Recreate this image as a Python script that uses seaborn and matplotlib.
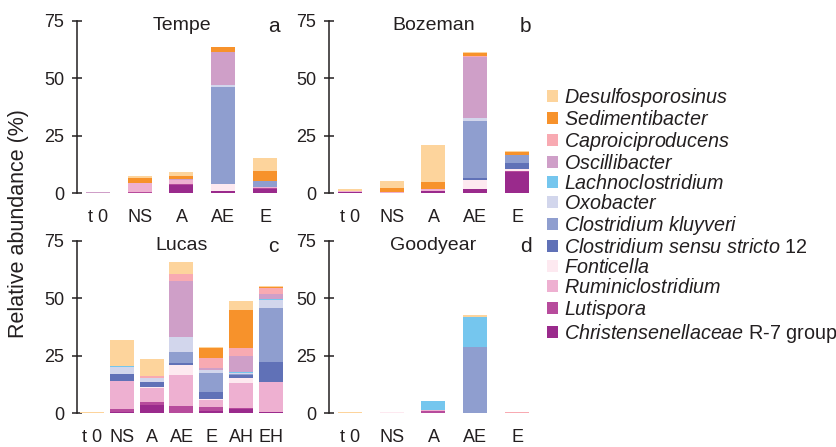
import matplotlib
matplotlib.use("Agg")
import matplotlib.pyplot as plt
from matplotlib.patches import Patch
import seaborn as sns
import pandas as pd
import numpy as np

# ---------------- data ----------------
genera = ["Desulfosporosinus", "Sedimentibacter", "Caproiciproducens", "Oscillibacter",
          "Lachnoclostridium", "Oxobacter", "Clostridium kluyveri",
          "Clostridium sensu stricto 12", "Fonticella", "Ruminiclostridium",
          "Lutispora", "Christensenellaceae R-7 group"]
legend_labels = [r"$\mathit{Desulfosporosinus}$", r"$\mathit{Sedimentibacter}$",
                 r"$\mathit{Caproiciproducens}$", r"$\mathit{Oscillibacter}$",
                 r"$\mathit{Lachnoclostridium}$", r"$\mathit{Oxobacter}$",
                 r"$\mathit{Clostridium\ kluyveri}$",
                 r"$\mathit{Clostridium\ sensu\ stricto}$ 12",
                 r"$\mathit{Fonticella}$", r"$\mathit{Ruminiclostridium}$",
                 r"$\mathit{Lutispora}$", r"$\mathit{Christensenellaceae}$ R-7 group"]
colors = ["#fdd49c", "#f7922b", "#f8aab2", "#cf9fc8", "#75c6ee", "#d2d6ec",
          "#8f9ecf", "#6071b7", "#fde9f0", "#eeb0d1", "#b74b9c", "#9a2a8c"]

samples5 = ["t 0", "NS", "A", "AE", "E"]
samples7 = ["t 0", "NS", "A", "AE", "E", "AH", "EH"]

# rows follow `genera` order (top of stack first); columns follow samples
tempe = [
    [0.0, 0.8, 1.4, 0.0, 5.5],    # Desulfosporosinus
    [0.0, 2.2, 1.6, 2.3, 4.3],    # Sedimentibacter
    [0.0, 0.0, 0.0, 0.0, 0.0],    # Caproiciproducens
    [0.5, 0.0, 0.3, 14.1, 0.0],   # Oscillibacter
    [0.0, 0.0, 0.0, 0.0, 0.0],    # Lachnoclostridium
    [0.0, 0.0, 0.0, 0.9, 0.0],    # Oxobacter
    [0.0, 0.2, 0.0, 42.2, 2.6],   # Clostridium kluyveri
    [0.0, 0.0, 0.0, 0.0, 0.0],    # Clostridium sensu stricto 12
    [0.0, 0.0, 0.0, 2.8, 0.0],    # Fonticella
    [0.0, 3.6, 1.9, 0.0, 0.5],    # Ruminiclostridium
    [0.0, 0.4, 0.4, 0.0, 0.5],    # Lutispora
    [0.0, 0.3, 3.5, 1.2, 1.8],    # Christensenellaceae R-7 group
]
bozeman = [
    [0.7, 2.9, 16.4, 0.6, 0.6],
    [0.2, 1.6, 2.9, 1.2, 1.0],
    [0.0, 0.0, 0.0, 0.6, 0.0],
    [0.0, 0.0, 0.0, 26.2, 0.0],
    [0.0, 0.0, 0.0, 0.0, 0.0],
    [0.0, 0.0, 0.0, 1.3, 0.3],
    [0.0, 0.0, 0.0, 25.1, 3.5],
    [0.0, 0.0, 0.0, 0.7, 2.6],
    [0.0, 0.0, 0.0, 3.8, 0.6],
    [0.4, 0.4, 0.9, 0.0, 0.0],
    [0.0, 0.0, 0.0, 0.0, 0.7],
    [0.6, 0.3, 0.9, 2.0, 9.1],
]
lucas = [
    [0.5, 11.2, 7.4, 5.1, 0.6, 3.9, 0.5],
    [0.0, 0.0, 0.0, 0.0, 4.3, 16.5, 0.3],
    [0.0, 0.0, 1.0, 3.0, 4.2, 3.3, 2.8],
    [0.0, 0.0, 0.0, 24.2, 0.9, 7.0, 2.2],
    [0.0, 0.4, 0.0, 0.0, 0.0, 0.4, 0.4],
    [0.0, 3.2, 1.7, 6.8, 1.3, 0.6, 3.3],
    [0.0, 0.0, 0.0, 4.8, 8.3, 0.6, 23.6],
    [0.0, 2.9, 2.2, 0.9, 3.2, 1.0, 8.7],
    [0.0, 0.0, 0.7, 4.2, 0.3, 2.2, 0.0],
    [0.0, 12.3, 5.8, 13.3, 2.9, 11.2, 13.0],
    [0.0, 1.2, 1.4, 3.3, 2.0, 0.4, 0.2],
    [0.0, 0.7, 3.6, 0.0, 0.9, 1.7, 0.4],
]
goodyear = [
    [0.6, 0.0, 0.0, 0.7, 0.0],
    [0.0, 0.0, 0.0, 0.0, 0.0],
    [0.0, 0.0, 0.0, 0.0, 0.5],
    [0.0, 0.0, 0.0, 0.0, 0.0],
    [0.0, 0.0, 3.9, 13.0, 0.0],
    [0.0, 0.0, 0.0, 0.0, 0.0],
    [0.0, 0.0, 0.0, 29.0, 0.0],
    [0.0, 0.0, 0.0, 0.0, 0.0],
    [0.0, 0.5, 0.0, 0.0, 0.0],
    [0.0, 0.0, 0.3, 0.0, 0.0],
    [0.0, 0.0, 1.2, 0.0, 0.0],
    [0.0, 0.0, 0.0, 0.0, 0.0],
]

panels = [
    ("Tempe", "a", samples5, tempe),
    ("Bozeman", "b", samples5, bozeman),
    ("Lucas", "c", samples7, lucas),
    ("Goodyear", "d", samples5, goodyear),
]

# ---------------- style ----------------
sns.set_theme(style="ticks")
TXT = "#231f20"
plt.rcParams["font.family"] = ["Liberation Sans", "DejaVu Sans"]
plt.rcParams["mathtext.fontset"] = "custom"
plt.rcParams["mathtext.rm"] = "Liberation Sans"
plt.rcParams["mathtext.it"] = "Liberation Sans:italic"
plt.rcParams["text.color"] = TXT
plt.rcParams["axes.labelcolor"] = TXT
plt.rcParams["xtick.color"] = TXT
plt.rcParams["ytick.color"] = TXT

fig = plt.figure(figsize=(8.37, 4.47), dpi=100)
W, H = 837.0, 447.0
ax_w = 209 / W
ax_h = 172.6 / H
positions = [
    (77 / W, 1 - 193.3 / H),
    (329 / W, 1 - 193.3 / H),
    (77 / W, 1 - 413.3 / H),
    (329 / W, 1 - 413.3 / H),
]

for (site, letter, samples, vals), (x0, y0) in zip(panels, positions):
    ax = fig.add_axes([x0, y0, ax_w, ax_h])
    arr = np.array(vals)
    # stack from bottom (last genus) upward
    cum_from_bottom = np.cumsum(arr[::-1], axis=0)[::-1]
    width = 24.0 / (209.0 / len(samples))
    rows = []
    for gi, g in enumerate(genera):
        for si, s in enumerate(samples):
            rows.append({"sample": s, "genus": g, "cum": cum_from_bottom[gi, si]})
    df = pd.DataFrame(rows)
    for gi, g in enumerate(genera):
        sub = df[df["genus"] == g]
        sns.barplot(data=sub, x="sample", y="cum", order=samples, color=colors[gi],
                    saturation=1, width=width, errorbar=None, linewidth=0, ax=ax)
    ax.set_xlim(-0.5, len(samples) - 0.5)
    ax.set_ylim(0, 75)
    ax.set_yticks([0, 25, 50, 75])
    ax.set_xlabel("")
    ax.set_ylabel("")
    sns.despine(ax=ax, bottom=True)
    ax.spines["left"].set_bounds(0, 75)
    ax.spines["left"].set_linewidth(1.1)
    ax.spines["left"].set_color(TXT)
    ax.tick_params(axis="y", direction="inout", length=7.5, width=1.1, labelsize=13,
                   pad=5.5, colors=TXT)
    ax.tick_params(axis="x", length=0, labelsize=13, pad=11, colors=TXT)
    ax.patch.set_visible(False)
    ax.text(0.5, 0.97, site, transform=ax.transAxes, ha="center", va="center",
            fontsize=14, color=TXT)
    ax.text(0.94, 0.965, letter, transform=ax.transAxes, ha="center", va="center",
            fontsize=15, color=TXT)

fig.text(19 / W, 0.5, "Relative abundance (%)", rotation=90, ha="center", va="center",
         fontsize=15.5, color=TXT)

handles = [Patch(facecolor=c, edgecolor="none") for c in colors]
fig.legend(handles, legend_labels, loc="upper left",
           bbox_to_anchor=(547 / W, 1 - 86 / H), frameon=False, fontsize=14.2,
           handlelength=0.57, handleheight=0.57, handletextpad=0.3,
           labelspacing=0.05, borderpad=0, borderaxespad=0)

fig.savefig("out.png", dpi=100)
